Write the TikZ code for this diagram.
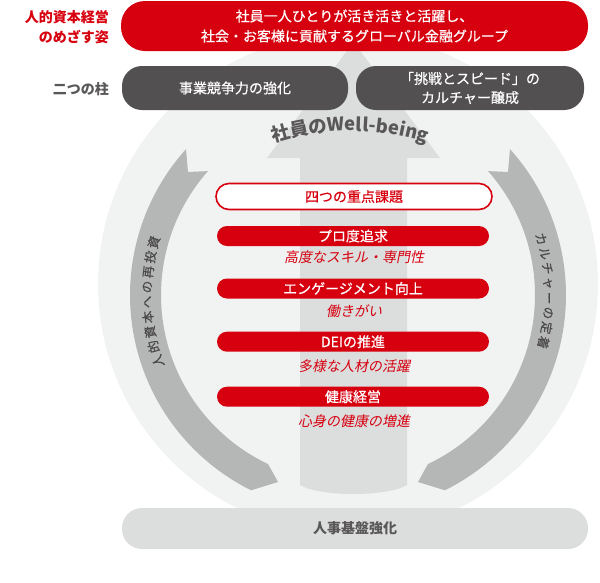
\documentclass[tikz,border=0pt]{standalone}
\usepackage{fontspec}
\usepackage{tikz}
\usetikzlibrary{decorations.text,positioning}
\newfontfamily\jp{Noto Sans CJK JP}
\newfontfamily\jpmed[FakeBold=0.5]{Noto Sans CJK JP}
\newfontfamily\jpit[FakeSlant=0.2]{Noto Sans CJK JP}
\definecolor{brandred}{HTML}{D7000F}
\definecolor{pillargray}{HTML}{525051}
\definecolor{ringgray}{HTML}{F1F2F2}
\definecolor{shaftgray}{HTML}{DCDDDD}
\definecolor{bandgray}{HTML}{B5B6B6}
\definecolor{labelgray}{HTML}{595757}
\definecolor{bandink}{HTML}{4A4848}
\tikzset
{
    goalbox/.style   = {fill=brandred, rounded corners=24pt, minimum width=467pt, minimum height=50pt, text=white, align=center, font=\jpmed\fontsize{14}{20}\selectfont},
    pillarbox/.style = {fill=pillargray, rounded corners=20pt, minimum height=44pt, text=white, align=center, font=\jpmed\fontsize{14}{19}\selectfont},
    themebox/.style  = {fill=white, draw=brandred, line width=1.6pt, rounded corners=13pt, minimum width=276pt, minimum height=26pt, text=brandred, font=\jpmed\fontsize{14}{14}\selectfont},
    issuebox/.style  = {fill=brandred, rounded corners=10pt, minimum width=272pt, minimum height=20pt, inner sep=0pt, text=white, font=\jpmed\fontsize{14}{14}\selectfont},
    issuenote/.style = {text=brandred, inner sep=0pt, font=\jpit\fontsize{14}{14}\selectfont},
    basebox/.style   = {fill=shaftgray, rounded corners=20pt, minimum width=466pt, minimum height=41pt, text=labelgray, font=\jp\bfseries\fontsize{14}{14}\selectfont},
    sidelabel/.style = {anchor=east, align=right, inner sep=0pt, font=\jp\bfseries\fontsize{14}{20}\selectfont},
    bandtext/.style  = {decorate, decoration={text along path, text align=fit to path, text={|\jpmed\fontsize{12.5}{12.5}\selectfont\color{bandink}|#1}}}
}
\begin{document}
\begin{tikzpicture}[x=1pt, y=1pt]
    \useasboundingbox (0,0) rectangle (600,-582);
    \coordinate (hub) at (348,-295);
    % background ring and rising arrow
    \fill[ringgray] (348,-284) circle[radius=250];
    \fill[shaftgray] (300,-485) -- (300,-158) -- (267,-158) -- (353.5,-42) -- (440,-158) -- (407,-158) -- (407,-485)
        .. controls (387,-497) and (320,-497) .. (300,-485) -- cycle;
    % side arrows
    \fill[bandgray] ([shift={(hub)}]243.6:218) arc[start angle=243.6, end angle=138, radius=218] -- (188,-172)
        -- ([shift={(hub)}]138.5:187) arc[start angle=138.5, end angle=244.7, radius=187] -- (278,-482) -- cycle;
    \fill[bandgray] ([shift={(hub)}]-63.6:218) arc[start angle=-63.6, end angle=42, radius=218] -- (508,-172)
        -- ([shift={(hub)}]41.5:187) arc[start angle=41.5, end angle=-64.7, radius=187] -- (418,-482) -- cycle;
    \path[bandtext={人的資本への再投資}] ([shift={(hub)}]201:196.5) arc[start angle=201, end angle=163, radius=196.5];
    \path[bandtext={カルチャーの定着}] ([shift={(hub)}]18:196.5) arc[start angle=18, end angle=-15.5, radius=196.5];
    \path[decorate, decoration={text along path, text align=center,
        text={|\jp\bfseries\fontsize{18.5}{18.5}\selectfont\color{labelgray}|社員のWell-being}}]
        ([shift={(350,-384)}]110:253) arc[start angle=110, end angle=70, radius=253];

    \node[goalbox] (goal) at (354.5,-26) {社員一人ひとりが活き活きと活躍し、\\社会・お客様に貢献するグローバル金融グループ};
    \node[sidelabel, text=brandred] (goallabel) at (109,-27) {人的資本経営\\のめざす姿};
    \node[pillarbox, minimum width=226pt] (pillarleft) at (235,-88) {事業競争力の強化};
    \node[pillarbox, minimum width=228pt] (pillarright) at (470,-88) {「挑戦とスピード」の\\カルチャー醸成};
    \node[sidelabel, text=labelgray] (pillarlabel) at (109,-89) {二つの柱};

    \node[themebox] (themes) at (354,-196.5) {四つの重点課題};
    \foreach \y/\ny/\title/\note [count=\i] in {236/256.7/プロ度追求/高度なスキル・専門性, 288.5/310.7/エンゲージメント向上/働きがい,
        341.7/365.8/DEIの推進/多様な人材の活躍, 396.7/421/健康経営/心身の健康の増進}
    {
        \node[issuebox] (issue\i) at (353,-\y) {\title};
        \node[issuenote] (note\i) at (354,-\ny) {\note};
    }

    \node[basebox] (base) at (355,-528.5) {人事基盤強化};
\end{tikzpicture}
\end{document}
